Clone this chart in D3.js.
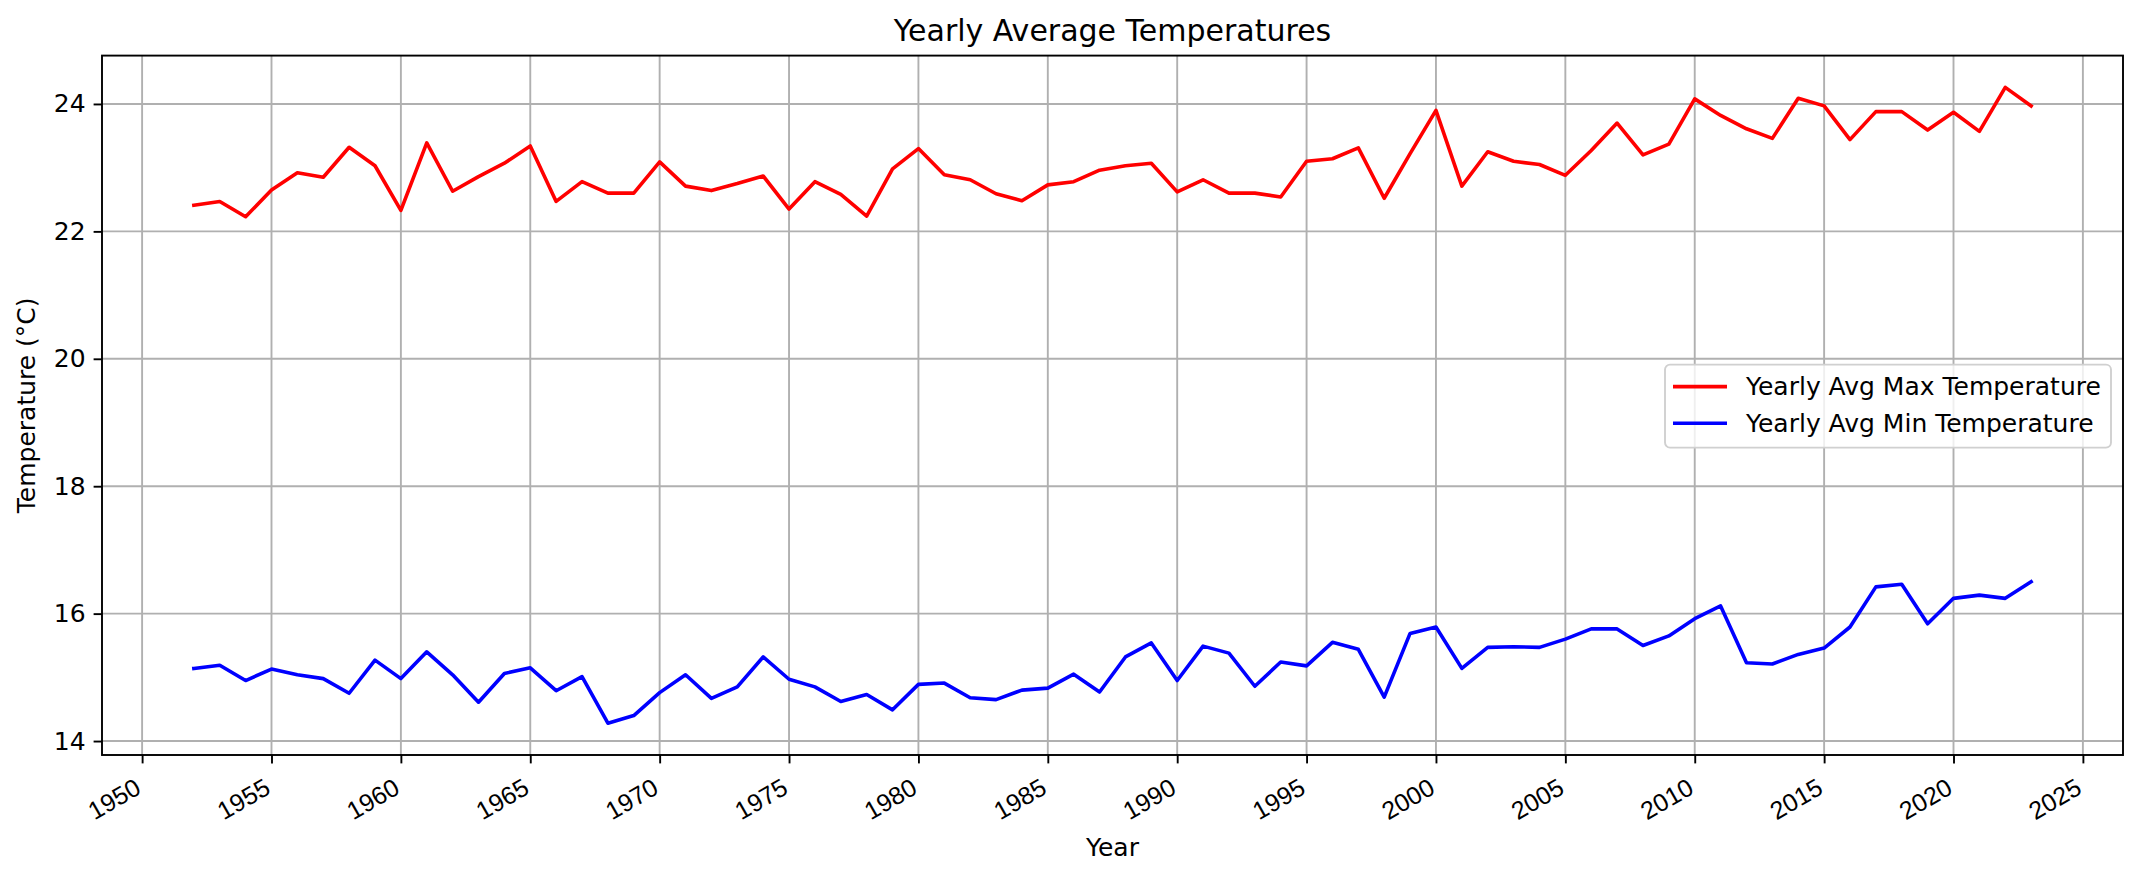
<!DOCTYPE html>
<html>
<head>
<meta charset="utf-8">
<script src="https://cdn.jsdelivr.net/npm/d3@7"></script>
<style>
  body { margin: 0; background: #fff; }
  svg { display: block; font-family: "DejaVu Sans", sans-serif; }
</style>
</head>
<body>
<svg id="chart" width="2140" height="877"></svg>
<script>
// yearly values
var years = [1952, 1953, 1954, 1955, 1956, 1957, 1958, 1959, 1960, 1961,
  1962, 1963, 1964, 1965, 1966, 1967, 1968, 1969, 1970, 1971,
  1972, 1973, 1974, 1975, 1976, 1977, 1978, 1979, 1980, 1981,
  1982, 1983, 1984, 1985, 1986, 1987, 1988, 1989, 1990, 1991,
  1992, 1993, 1994, 1995, 1996, 1997, 1998, 1999, 2000, 2001,
  2002, 2003, 2004, 2005, 2006, 2007, 2008, 2009, 2010, 2011,
  2012, 2013, 2014, 2015, 2016, 2017, 2018, 2019, 2020, 2021,
  2022, 2023];

var maxTemps = [22.41, 22.47, 22.23, 22.65, 22.92, 22.85, 23.32, 23.03, 22.33, 23.39,
  22.63, 22.86, 23.07, 23.34, 22.47, 22.78, 22.60, 22.60, 23.09, 22.71,
  22.64, 22.75, 22.87, 22.35, 22.78, 22.58, 22.24, 22.98, 23.30, 22.89,
  22.81, 22.59, 22.48, 22.73, 22.78, 22.96, 23.03, 23.07, 22.62, 22.81,
  22.60, 22.60, 22.54, 23.10, 23.14, 23.31, 22.52, 23.22, 23.90, 22.71,
  23.25, 23.10, 23.05, 22.88, 23.27, 23.70, 23.20, 23.37, 24.08, 23.82,
  23.61, 23.46, 24.09, 23.97, 23.44, 23.88, 23.88, 23.59, 23.87, 23.57,
  24.26, 23.97];

var minTemps = [15.14, 15.19, 14.95, 15.13, 15.04, 14.98, 14.75, 15.27, 14.98, 15.40,
  15.04, 14.61, 15.06, 15.15, 14.79, 15.01, 14.28, 14.40, 14.76, 15.04,
  14.67, 14.85, 15.32, 14.97, 14.85, 14.62, 14.73, 14.49, 14.89, 14.91,
  14.68, 14.65, 14.80, 14.83, 15.05, 14.77, 15.32, 15.54, 14.95, 15.49,
  15.38, 14.86, 15.24, 15.18, 15.55, 15.44, 14.69, 15.69, 15.79, 15.14,
  15.47, 15.48, 15.47, 15.60, 15.76, 15.76, 15.50, 15.65, 15.92, 16.12,
  15.23, 15.21, 15.36, 15.46, 15.79, 16.42, 16.46, 15.84, 16.24, 16.29,
  16.24, 16.50];

var xTicks = [1950, 1955, 1960, 1965, 1970, 1975, 1980, 1985, 1990, 1995,
  2000, 2005, 2010, 2015, 2020, 2025];
var yTicks = [14, 16, 18, 20, 22, 24];

var seriesNames = ["Yearly Avg Max Temperature", "Yearly Avg Min Temperature"];
var seriesColors = ["#ff0000", "#0000ff"];

var margin = { top: 55.6, right: 17, bottom: 122, left: 102 };
var width = 2140 - margin.left - margin.right;
var height = 877 - margin.top - margin.bottom;
var fontSize = 25;

var svg = d3.select("#chart");
var g = svg.append("g")
  .attr("transform", "translate(" + margin.left + "," + margin.top + ")");

// matplotlib style 5% padding around the data
var xExt = d3.extent(years);
var xPad = (xExt[1] - xExt[0]) * 0.05;
var yExt = d3.extent(maxTemps.concat(minTemps));
var yPad = (yExt[1] - yExt[0]) * 0.05;

var x = d3.scaleLinear()
  .domain([xExt[0] - xPad, xExt[1] + xPad])
  .range([0, width]);
var y = d3.scaleLinear()
  .domain([yExt[0] - yPad, yExt[1] + yPad])
  .range([height, 0]);

// grid
g.append("g")
  .selectAll("line")
  .data(xTicks)
  .join("line")
  .attr("x1", d => x(d)).attr("x2", d => x(d))
  .attr("y1", 0).attr("y2", height)
  .attr("stroke", "#b0b0b0").attr("stroke-width", 1.9);

g.append("g")
  .selectAll("line")
  .data(yTicks)
  .join("line")
  .attr("x1", 0).attr("x2", width)
  .attr("y1", d => y(d)).attr("y2", d => y(d))
  .attr("stroke", "#b0b0b0").attr("stroke-width", 1.9);

// lines
var line = d3.line()
  .x((d, i) => x(years[i]))
  .y(d => y(d));

[maxTemps, minTemps].forEach(function (vals, k) {
  g.append("path")
    .datum(vals)
    .attr("d", line)
    .attr("fill", "none")
    .attr("stroke", seriesColors[k])
    .attr("stroke-width", 3.6)
    .attr("stroke-linejoin", "round")
    .attr("stroke-linecap", "square");
});

// axes
var xAxis = g.append("g")
  .attr("transform", "translate(0," + height + ")")
  .call(d3.axisBottom(x).tickValues(xTicks).tickSize(8.4).tickFormat(""));
var yAxis = g.append("g")
  .call(d3.axisLeft(y).tickValues(yTicks).tickSize(8.4).tickPadding(8).tickFormat(d3.format("d")));

[xAxis, yAxis].forEach(function (ax) {
  ax.select(".domain").remove();
  ax.selectAll(".tick line").attr("stroke", "#000").attr("stroke-width", 1.9);
});
yAxis.selectAll(".tick text")
  .attr("font-size", fontSize)
  .attr("fill", "#000")
  .attr("font-family", "DejaVu Sans");

// rotated year labels, right aligned on the tick like autofmt_xdate
xAxis.selectAll(".tick")
  .append("text")
  .attr("transform", "translate(-9,22) rotate(-30)")
  .attr("text-anchor", "end")
  .attr("dy", "0.72em")
  .attr("font-size", fontSize)
  .attr("fill", "#000")
  .text(d => d);

// frame
g.append("rect")
  .attr("width", width).attr("height", height)
  .attr("fill", "none")
  .attr("stroke", "#000").attr("stroke-width", 1.9);

// title and labels
svg.append("text")
  .attr("x", margin.left + width / 2).attr("y", 41)
  .attr("text-anchor", "middle")
  .attr("font-size", 30)
  .text("Yearly Average Temperatures");

svg.append("text")
  .attr("x", margin.left + width / 2).attr("y", 856)
  .attr("text-anchor", "middle")
  .attr("font-size", fontSize)
  .text("Year");

svg.append("text")
  .attr("transform", "translate(35," + (margin.top + height / 2) + ") rotate(-90)")
  .attr("text-anchor", "middle")
  .attr("font-size", fontSize)
  .text("Temperature (°C)");

// legend
var legend = g.append("g")
  .attr("transform", "translate(" + (width - 458) + ",309)");
legend.append("rect")
  .attr("width", 446).attr("height", 83)
  .attr("rx", 5)
  .attr("fill", "#fff").attr("fill-opacity", 0.8)
  .attr("stroke", "#d0d0d0").attr("stroke-width", 1.9);

var rows = legend.selectAll(".row")
  .data(seriesNames)
  .join("g")
  .attr("class", "row")
  .attr("transform", (d, i) => "translate(0," + (22 + i * 36.7) + ")");
rows.append("line")
  .attr("x1", 8).attr("x2", 62)
  .attr("stroke", (d, i) => seriesColors[i])
  .attr("stroke-width", 3.6);
rows.append("text")
  .attr("x", 81)
  .attr("dy", "0.35em")
  .attr("font-size", fontSize)
  .text(d => d);
</script>
</body>
</html>
